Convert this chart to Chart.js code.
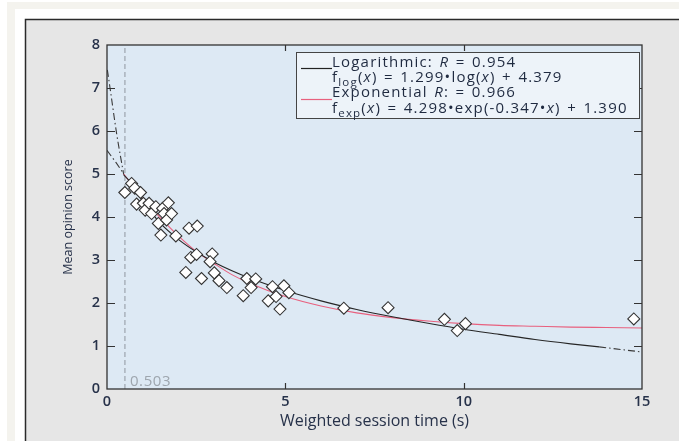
<!DOCTYPE html>
<html>
<head>
<meta charset="utf-8">
<style>
  html, body { margin: 0; padding: 0; background: #fff; }
  #wrap { width: 679px; height: 441px; }
</style>
<script src="https://cdn.jsdelivr.net/npm/chart.js@4"></script>
</head>
<body>
<div id="wrap"><canvas id="mos" width="679" height="441"></canvas></div>
<script>
// --- Data ---
const sessionTime = [0.50, 0.69, 0.78, 0.94, 0.83, 1.02, 1.07, 1.18, 1.25, 1.37, 1.44, 1.51, 1.56, 1.60, 1.67,
  1.72, 1.81, 1.93, 2.30, 2.53, 2.35, 2.51, 2.95, 2.89, 2.21, 2.65, 3.01, 3.14, 3.36, 3.82, 3.92, 4.04,
  4.17, 4.52, 4.64, 4.74, 4.85, 4.96, 5.10, 6.64, 7.88, 9.46, 9.82, 10.05, 14.77];
const opinionScore = [4.57, 4.78, 4.67, 4.57, 4.30, 4.32, 4.16, 4.32, 4.08, 4.24, 3.85, 3.58, 4.20, 4.08, 3.93,
  4.33, 4.08, 3.56, 3.74, 3.79, 3.06, 3.13, 3.14, 2.96, 2.71, 2.57, 2.70, 2.52, 2.36, 2.17, 2.57, 2.36,
  2.56, 2.05, 2.38, 2.15, 1.86, 2.40, 2.24, 1.88, 1.89, 1.62, 1.36, 1.52, 1.63];

// fitted curves
const logFitX = [0.47, 0.75, 1, 1.5, 2, 2.5, 3, 4, 5, 6, 7, 8, 9, 10, 11, 12, 13, 13.8];
const logFitY = [4.98, 4.72, 4.38, 3.85, 3.48, 3.19, 2.95, 2.58, 2.29, 2.05, 1.85, 1.68, 1.53, 1.39, 1.27, 1.15, 1.05, 0.98];
const logExtLeftX = [0.01, 0.08, 0.27, 0.47];
const logExtLeftY = [7.42, 7.03, 5.94, 4.98];
const logExtRightX = [13.8, 14.4, 15];
const logExtRightY = [0.98, 0.92, 0.86];

const expFitX = [0.47, 1, 1.5, 2, 2.5, 3, 3.5, 4, 5, 6, 7, 8, 9, 10, 11, 12, 13, 14, 15];
const expFitY = [5.0, 4.43, 3.98, 3.56, 3.2, 2.92, 2.66, 2.46, 2.15, 1.93, 1.77, 1.66, 1.58, 1.52, 1.48, 1.46, 1.44, 1.43, 1.42];
const expExtLeftX = [0, 0.25, 0.47];
const expExtLeftY = [5.55, 5.27, 5.0];

const cutoff = 0.503;
const xTicks = [0, 5, 10, 15];
const yTicks = [0, 1, 2, 3, 4, 5, 6, 7, 8];

const legendLines = [
  [{ t: 'Logarithmic: ' }, { t: 'R', it: true }, { t: ' = 0.954' }],
  [{ t: 'f' }, { t: 'log', sub: true }, { t: '(' }, { t: 'x', it: true }, { t: ') = 1.299\u2022log(' }, { t: 'x', it: true }, { t: ') + 4.379' }],
  [{ t: 'Exponential ' }, { t: 'R', it: true }, { t: ': = 0.966' }],
  [{ t: 'f' }, { t: 'exp', sub: true }, { t: '(' }, { t: 'x', it: true }, { t: ') = 4.298\u2022exp(-0.347\u2022' }, { t: 'x', it: true }, { t: ') + 1.390' }]
];

const FONT = '"Open Sans", "Noto Sans", sans-serif';
const TEXT = '#27324a';

function pts(xs, ys) {
  return xs.map((x, i) => ({ x: x, y: ys[i] }));
}

// draw text one glyph at a time so the wide spacing of the original can be copied
function spacedText(c, str, x, y, gap, spaceGap) {
  for (const ch of str) {
    c.fillText(ch, x, y);
    x += c.measureText(ch).width + (ch === ' ' ? spaceGap : gap);
  }
  return x;
}

// --- Page furniture: framed grey panel, blue plot, inward ticks, legend box ---
const figurePlugin = {
  id: 'figure',
  beforeDraw(chart) {
    const c = chart.ctx;
    const a = chart.chartArea;
    c.save();
    c.fillStyle = '#ffffff';
    c.fillRect(0, 0, chart.width, chart.height);
    c.fillStyle = '#f4f3ee';
    c.fillRect(7, 2, chart.width - 7, 7);
    c.fillRect(7, 2, 8, chart.height - 2);
    c.fillStyle = '#ffffff';
    c.fillRect(15, 9, chart.width - 15, 10);
    c.fillStyle = '#e6e6e6';
    c.fillRect(25, 19, chart.width - 25, chart.height - 19);
    c.strokeStyle = '#2a2a2a';
    c.lineWidth = 1.5;
    c.beginPath();
    c.moveTo(25.5, chart.height);
    c.lineTo(25.5, 19.5);
    c.lineTo(chart.width, 19.5);
    c.stroke();
    c.fillStyle = '#dde9f4';
    c.fillRect(a.left, a.top, a.right - a.left, a.bottom - a.top);
    c.restore();
  },
  afterDatasetsDraw(chart) {
    const c = chart.ctx;
    const a = chart.chartArea;
    const xs = chart.scales.x, ys = chart.scales.y;
    c.save();
    // frame
    c.strokeStyle = '#333';
    c.lineWidth = 1.3;
    c.strokeRect(a.left, a.top, a.right - a.left, a.bottom - a.top);
    // inward ticks on all four sides
    c.lineWidth = 1.2;
    c.beginPath();
    yTicks.slice(1, -1).forEach(v => {
      const py = Math.round(ys.getPixelForValue(v)) + 0.5;
      c.moveTo(a.left, py); c.lineTo(a.left + 8, py);
      c.moveTo(a.right, py); c.lineTo(a.right - 8, py);
    });
    xTicks.slice(1, -1).forEach(v => {
      const px = Math.round(xs.getPixelForValue(v)) + 0.5;
      c.moveTo(px, a.bottom); c.lineTo(px, a.bottom - 6);
      c.moveTo(px, a.top); c.lineTo(px, a.top + 6);
    });
    c.stroke();
    // cutoff label
    c.fillStyle = '#9ea6ae';
    c.font = '15px ' + FONT;
    c.textBaseline = 'alphabetic';
    spacedText(c, String(cutoff), xs.getPixelForValue(cutoff) + 5, a.bottom - 3, 0.6, 0.6);
    // legend box
    const bx = 296, by = 52, bw = 343, bh = 66;
    c.fillStyle = '#edf3f9';
    c.fillRect(bx, by, bw, bh);
    c.strokeStyle = '#444';
    c.lineWidth = 1;
    c.strokeRect(bx + 0.5, by + 0.5, bw, bh);
    c.lineWidth = 1.2;
    c.strokeStyle = '#222';
    c.beginPath(); c.moveTo(301, 68.5); c.lineTo(332, 68.5); c.stroke();
    c.strokeStyle = '#e8607e';
    c.beginPath(); c.moveTo(301, 99.5); c.lineTo(332, 99.5); c.stroke();
    const baselines = [67, 82, 97, 112.5];
    c.fillStyle = '#1f2a40';
    legendLines.forEach((segs, i) => {
      let x = 332;
      segs.forEach(s => {
        const size = s.sub ? 11.5 : 15;
        c.font = (s.it ? 'italic ' : '') + size + 'px ' + FONT;
        x = spacedText(c, s.t, x, baselines[i] + (s.sub ? 4 : 0), 1.2, 2.6);
      });
    });
    c.restore();
  }
};

const dashDot = [7, 3, 1.5, 3];

new Chart(document.getElementById('mos').getContext('2d'), {
  type: 'scatter',
  data: {
    datasets: [
      {
        label: 'Measurements',
        data: pts(sessionTime, opinionScore),
        pointStyle: 'rectRot',
        pointRadius: 6,
        pointBackgroundColor: '#ffffff',
        pointBorderColor: '#333333',
        pointBorderWidth: 1.1,
        showLine: false
      },
      {
        label: 'Logarithmic',
        data: pts(logFitX, logFitY),
        showLine: true, pointRadius: 0,
        borderColor: '#262626', borderWidth: 1.1,
        cubicInterpolationMode: 'monotone'
      },
      {
        label: 'Exponential',
        data: pts(expFitX, expFitY),
        showLine: true, pointRadius: 0,
        borderColor: '#e8607e', borderWidth: 1.1,
        cubicInterpolationMode: 'monotone'
      },
      {
        label: 'log extension left',
        data: pts(logExtLeftX, logExtLeftY),
        showLine: true, pointRadius: 0,
        borderColor: '#3a3a3a', borderWidth: 1.1, borderDash: dashDot,
        cubicInterpolationMode: 'monotone'
      },
      {
        label: 'log extension right',
        data: pts(logExtRightX, logExtRightY),
        showLine: true, pointRadius: 0,
        borderColor: '#3a3a3a', borderWidth: 1.1, borderDash: dashDot
      },
      {
        label: 'exp extension left',
        data: pts(expExtLeftX, expExtLeftY),
        showLine: true, pointRadius: 0,
        borderColor: '#3a3a3a', borderWidth: 1.1, borderDash: dashDot
      },
      {
        label: 'cutoff',
        data: [{ x: cutoff, y: 0 }, { x: cutoff, y: 8 }],
        showLine: true, pointRadius: 0,
        borderColor: '#8f979f', borderWidth: 1, borderDash: [5, 3]
      }
    ]
  },
  options: {
    responsive: false,
    animation: false,
    events: [],
    layout: { padding: { left: 0, top: 45, right: 37, bottom: 0 } },
    plugins: { legend: { display: false }, tooltip: { enabled: false } },
    scales: {
      x: {
        type: 'linear', min: 0, max: 15,
        afterBuildTicks: s => { s.ticks = xTicks.map(v => ({ value: v })); },
        afterFit: s => { s.height = 52; },
        grid: { display: false, drawTicks: false },
        border: { display: false },
        ticks: { padding: 4, color: TEXT, font: { family: FONT, size: 14.5, weight: '600' }, maxRotation: 0 },
        title: { display: true, text: 'Weighted session time (s)', color: TEXT,
                 font: { family: FONT, size: 16 }, padding: { top: 0, bottom: 10 } }
      },
      y: {
        type: 'linear', min: 0, max: 8,
        afterBuildTicks: s => { s.ticks = yTicks.map(v => ({ value: v })); },
        afterFit: s => { s.width = 107; },
        grid: { display: false, drawTicks: false },
        border: { display: false },
        ticks: { padding: 7, color: TEXT, font: { family: FONT, size: 14.5, weight: '600' } },
        title: { display: true, text: 'Mean opinion score', color: TEXT,
                 font: { family: FONT, size: 12.5 }, padding: { top: 61, bottom: 0 } }
      }
    }
  },
  plugins: [figurePlugin]
});
</script>
</body>
</html>
